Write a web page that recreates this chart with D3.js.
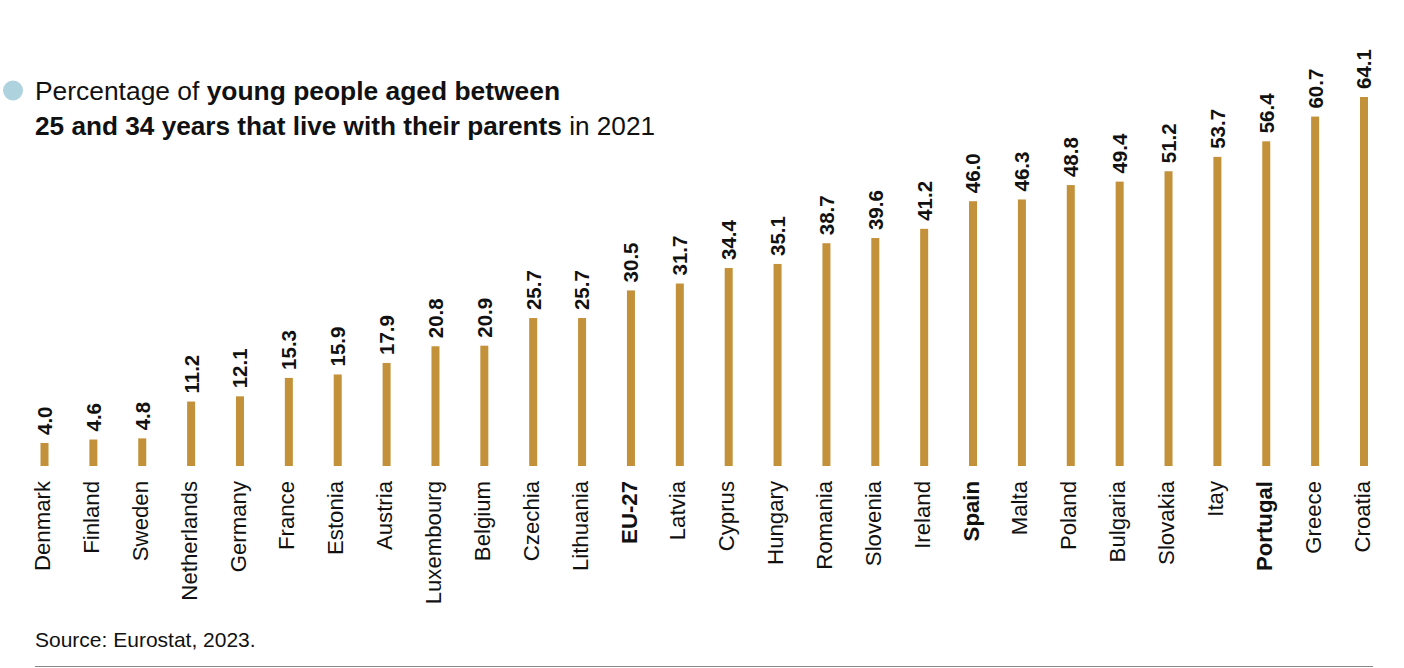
<!DOCTYPE html>
<html><head><meta charset="utf-8">
<script src="https://cdn.jsdelivr.net/npm/d3@7"></script>
<style>
html,body{margin:0;padding:0;background:#fff;}
svg{display:block;font-family:"Liberation Sans",Arial,sans-serif;}
</style></head>
<body>
<svg id="chart" width="1404" height="668"></svg>
<script>
const categories = ["Denmark","Finland","Sweden","Netherlands","Germany","France","Estonia","Austria","Luxembourg","Belgium","Czechia","Lithuania","EU-27","Latvia","Cyprus","Hungary","Romania","Slovenia","Ireland","Spain","Malta","Poland","Bulgaria","Slovakia","Itay","Portugal","Greece","Croatia"];
const values = [4.0,4.6,4.8,11.2,12.1,15.3,15.9,17.9,20.8,20.9,25.7,25.7,30.5,31.7,34.4,35.1,38.7,39.6,41.2,46.0,46.3,48.8,49.4,51.2,53.7,56.4,60.7,64.1];
const highlighted = ["EU-27","Spain","Portugal"];
const valueLabels = values.map(v => v.toFixed(1));

const svg = d3.select("#chart");
const baseY = 466;
const x = d3.scalePoint().domain(categories).range([44.5, 1364]);
const y = d3.scaleLinear().domain([0, 64.1]).range([baseY, 97]);
const barW = 8;
const barColor = "#c3913a";

// title
svg.append("circle").attr("cx", 13).attr("cy", 90.5).attr("r", 10).attr("fill", "#aed3de");
const t1 = svg.append("text").attr("x", 35).attr("y", 100).attr("font-size", 26.4).attr("fill", "#111");
t1.append("tspan").text("Percentage of ");
t1.append("tspan").attr("font-weight", "bold").text("young people aged between");
const t2 = svg.append("text").attr("x", 35).attr("y", 135).attr("font-size", 26.2).attr("fill", "#111");
t2.append("tspan").attr("font-weight", "bold").text("25 and 34 years that live with their parents");
t2.append("tspan").text(" in 2021");

const data = categories.map((c, i) => ({c, v: values[i], label: valueLabels[i]}));

svg.append("g").selectAll("rect").data(data).join("rect")
  .attr("x", d => x(d.c) - barW / 2)
  .attr("y", d => y(d.v))
  .attr("width", barW)
  .attr("height", d => baseY - y(d.v))
  .attr("fill", barColor);

svg.append("g").selectAll("text").data(data).join("text")
  .attr("transform", d => `translate(${x(d.c)},${y(d.v) - 8}) rotate(-90)`)
  .attr("dy", "0.36em")
  .attr("font-size", 20.5)
  .attr("font-weight", "bold")
  .attr("fill", "#111")
  .text(d => d.label);

svg.append("g").selectAll("text").data(data).join("text")
  .attr("transform", d => `translate(${x(d.c)},481) rotate(-90)`)
  .attr("dy", "0.25em")
  .attr("text-anchor", "end")
  .attr("font-size", 22.2)
  .attr("font-weight", d => highlighted.includes(d.c) ? "bold" : "normal")
  .attr("fill", "#111")
  .text(d => d.c);

svg.append("text").attr("x", 35).attr("y", 647).attr("font-size", 21).attr("fill", "#111")
  .text("Source: Eurostat, 2023.");
svg.append("line").attr("x1", 35).attr("x2", 1373).attr("y1", 666.5).attr("y2", 666.5)
  .attr("stroke", "#888").attr("stroke-width", 1.2);
</script>
</body></html>
